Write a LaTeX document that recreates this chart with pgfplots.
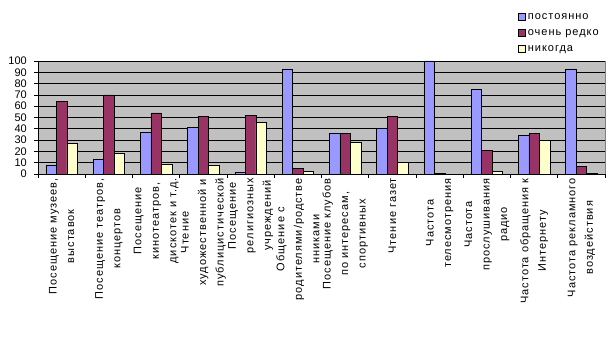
\documentclass[border=0pt]{standalone}
\usepackage{pgfplots}
\pgfplotsset{compat=1.18}
\usepackage{fontspec}
\setmainfont{Liberation Sans}
\newfontfamily\lbl{Liberation Sans}[LetterSpace=9]
\definecolor{cBlue}{HTML}{9999FF}
\definecolor{cMaroon}{HTML}{993366}
\definecolor{cYellow}{HTML}{FFFFCC}
\definecolor{cBg}{HTML}{C0C0C0}
\definecolor{cFrame}{HTML}{808080}
\begin{document}
\begin{tikzpicture}[font=\fontsize{11}{13}\selectfont]
\path[use as bounding box] (-38pt,-187pt) rectangle (575pt,174pt);
\begin{axis}[
  scale only axis, width=567pt, height=113pt,
  xmin=0, xmax=12, ymin=0, ymax=100,
  axis lines=left, axis line style={-, black, line width=0.6pt},
  axis background/.style={fill=cBg, draw=cFrame, line width=0.6pt},
  ytick={0,10,...,100},
  ymajorgrids, grid style={black, line width=0.6pt},
  xtick={0.5,1.5,...,11.5},
  xticklabels={{Посещение музеев,\\выставок},{Посещение театров,\\концертов},{Посещение\\кинотеатров,\\дискотек и т.д.},{Чтение\\художественной и\\публицистической},{Посещение\\религиозных\\учреждений},{Общение с\\родителями/родстве\\нниками},{Посещение клубов\\по интересам,\\спортивных},{Чтение газет},{Частота\\телесмотрения},{Частота\\прослушивания\\радио},{Частота обращения к\\Интернету},{Частота рекламного\\воздействия}},
  major x tick style={draw=none},
  minor xtick={0,1,...,12},
  minor x tick style={black, line width=0.6pt},
  minor tick length=4pt,
  major tick length=4pt,
  y tick style={black, line width=0.6pt},
  tick align=outside,
  xticklabel style={rotate=90, anchor=east, align=center, font=\lbl\fontsize{11}{17.5}\selectfont, inner sep=0pt},
  yticklabel style={font=\fontsize{11}{13}\selectfont, inner sep=0pt, xshift=-7pt},
  /pgf/number format/assume math mode=true,
  ybar=0pt, bar width=10.5pt,
  every axis plot/.append style={draw=black, line width=0.6pt},
  legend cell align=left,
  legend image code/.code={\draw[#1, draw=black, line width=0.6pt] (0pt,-3.5pt) rectangle (7pt,3.5pt);},
  legend style={at={(axis description cs:0.8466,1.44)}, anchor=north west, draw=none, fill=none, font=\lbl\fontsize{11}{13}\selectfont, row sep=4.5pt, inner sep=0pt},
]
\addplot[fill=cBlue] coordinates {(0.5,8) (1.5,13) (2.5,37) (3.5,41) (4.5,1.5) (5.5,93) (6.5,36) (7.5,40) (8.5,100) (9.5,75) (10.5,34) (11.5,93)};
\addplot[fill=cMaroon] coordinates {(0.5,64) (1.5,70) (2.5,54) (3.5,51) (4.5,52) (5.5,5) (6.5,36) (7.5,51) (8.5,0.5) (9.5,21) (10.5,36) (11.5,7)};
\addplot[fill=cYellow] coordinates {(0.5,27) (1.5,18) (2.5,9) (3.5,8) (4.5,46) (5.5,2.5) (6.5,28) (7.5,10) (9.5,2.5) (10.5,30) (11.5,1)};
\legend{постоянно, очень редко, никогда}
\end{axis}
\end{tikzpicture}
\end{document}
